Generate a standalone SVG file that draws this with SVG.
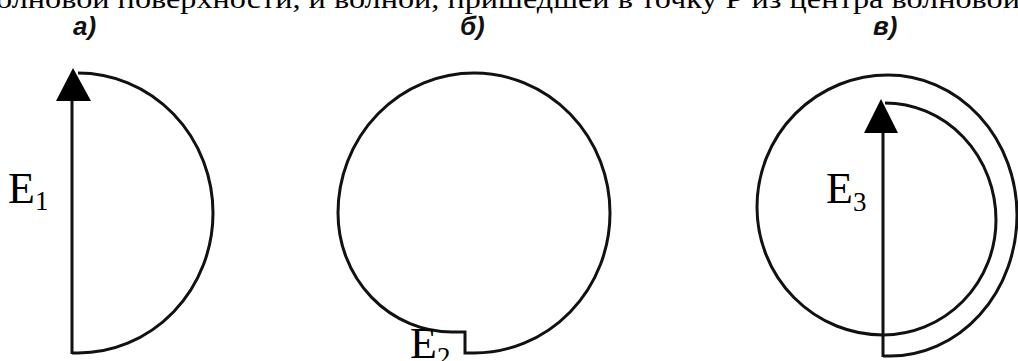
<svg xmlns="http://www.w3.org/2000/svg" width="1018" height="361" viewBox="0 0 1018 361">
<style>
.curve{fill:none;stroke:#111;stroke-width:3;stroke-linejoin:miter}
.shaft{fill:none;stroke:#111;stroke-width:3}
.head{fill:#000;stroke:none}
.hdr{font-family:"Liberation Serif","Times New Roman",serif;font-size:28px;fill:#000}
.lbl{font-family:"Liberation Sans",Arial,sans-serif;font-size:26px;font-weight:bold;font-style:italic;fill:#111}
.e{font-family:"Liberation Serif","Times New Roman",serif;font-size:44px;fill:#000}
.sub{font-size:27px}
</style>
<rect width="1018" height="361" fill="#fff"/>
<text class="hdr" x="-4" y="8" textLength="1024" lengthAdjust="spacingAndGlyphs">олновой поверхности, и волной, пришедшей в точку Р из центра волновой</text>
<g id="labels">
<text class="lbl" x="73" y="35">а)</text>
<text class="lbl" x="460" y="35">б)</text>
<text class="lbl" x="873" y="35">в)</text>
</g>
<g id="panel-a">
<path class="curve" d="M72,353 L78,353 A135,140 0 0 0 78,73"/>
<line class="shaft" x1="72" y1="354" x2="72" y2="98"/>
<polygon class="head" points="73,68 56,101 91,101"/>
<text class="e" x="8" y="203">E<tspan class="sub" dy="7">1</tspan></text>
</g>
<g id="panel-b">
<path class="curve" d="M474,353 A136,140 0 0 0 474,73 A136,140 0 0 0 338,213 A114,119 0 0 0 452,332 L465,332 L465,353 Z"/>
<text class="e" x="410" y="358">E<tspan class="sub" dy="8">2</tspan></text>
</g>
<g id="panel-c">
<path class="curve" d="M883,356 L890,356 A127,141 0 0 0 1017,215 A129,140 0 0 0 888,75 A131,132 0 0 0 757,207 A126,128 0 0 0 883,335 A113,115 0 0 0 996,220 A111,117 0 0 0 885,103"/>
<line class="shaft" x1="883" y1="357" x2="883" y2="128" stroke-width="2.2"/>
<polygon class="head" points="881,99 864,133 898,133"/>
<text class="e" x="826" y="203">E<tspan class="sub" dy="8">3</tspan></text>
</g>
</svg>
